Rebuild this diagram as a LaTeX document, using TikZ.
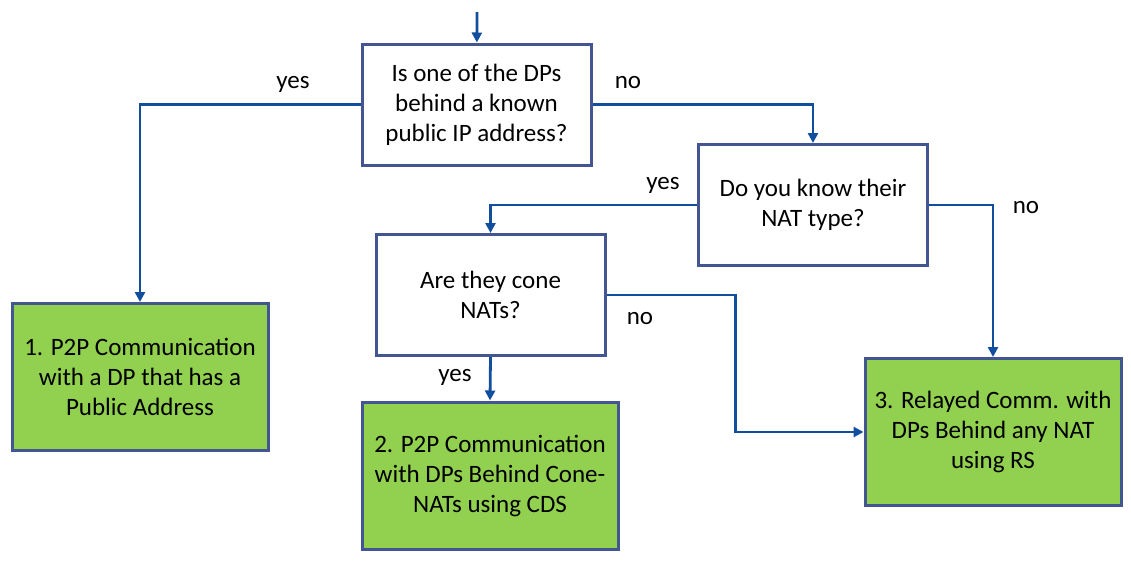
\documentclass[tikz,border=0pt]{standalone}
\usepackage{fontspec}
\setmainfont{Carlito}
\usepackage{xcolor}
\usepackage{tikz}
\usetikzlibrary{arrows.meta, positioning, calc}
\definecolor{nfborder}{RGB}{68,86,145}
\definecolor{nfline}{RGB}{18,78,158}
\definecolor{nfgreen}{RGB}{146,208,80}

\begin{document}
\begin{tikzpicture}[x=1pt, y=-1pt,
    question/.style={rectangle, draw=nfborder, line width=3pt, fill=white,
        minimum width=229pt, minimum height=121pt, inner sep=0pt, align=center,
        font=\fontsize{25}{30}\selectfont},
    result/.style={rectangle, draw=nfborder, line width=3pt, fill=nfgreen,
        minimum width=256pt, minimum height=147pt, inner sep=0pt, align=center,
        font=\fontsize{25}{30}\selectfont},
    arrow/.style={-{Triangle[length=10pt, width=10pt]}, line width=2.8pt, color=nfline},
    answer/.style={font=\fontsize{25}{30}\selectfont, inner sep=0pt}
]
\useasboundingbox (0,0) rectangle (1131,563);

\coordinate (entry) at (477,12);
\node[question] (public) at (476.5,104.5) {Is one of the DPs\\behind a known\\public IP address?};
\node[question] (nattype) at (813,205) {Do you know their\\NAT type?};
\node[question] (cone) at (490.5,295) {Are they cone\\NATs?};
\node[result] (direct) at (140,377) {1. P2P Communication\\with a DP that has a\\Public Address};
\node[result] (holepunch) at (490,475.5) {2. P2P Communication\\with DPs Behind Cone-\\NATs using CDS};
\node[result] (relay) at (993,432) {3. Relayed Comm. with\\DPs Behind any NAT\\using RS};

\draw[arrow] (entry) -- (public);
\draw[arrow] (public.west) -| (direct.north);
\draw[arrow] (public.east) -| (nattype.north);
\draw[arrow] (nattype.west) -| (cone.north);
\draw[arrow] (nattype.east) -| (relay.north);
\draw[arrow] (cone.south) -- (holepunch.north);
\draw[arrow] (cone.east) -- ++(129,0) |- (relay.west);

\node[answer] at (293,84)  {yes};
\node[answer] at (628,83)  {no};
\node[answer] at (663,185) {yes};
\node[answer] at (1026,208) {no};
\node[answer] at (640,319) {no};
\node[answer] at (455,377) {yes};
\end{tikzpicture}
\end{document}
